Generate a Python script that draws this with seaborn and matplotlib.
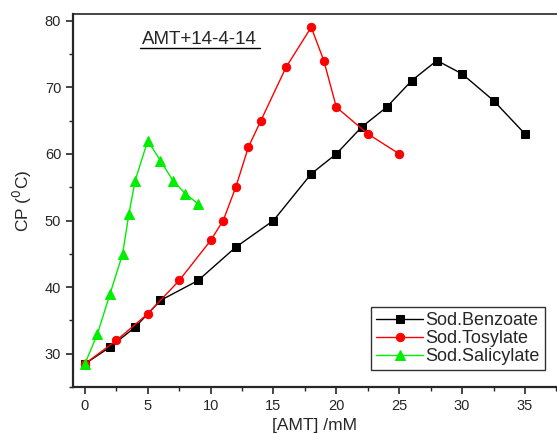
import matplotlib
matplotlib.use("Agg")
import matplotlib.pyplot as plt
import pandas as pd
import seaborn as sns
from matplotlib.ticker import MultipleLocator

benzoate_x = [0, 2, 4, 6, 9, 12, 15, 18, 20, 22, 24, 26, 28, 30, 32.5, 35]
benzoate_y = [28.5, 31, 34, 38, 41, 46, 50, 57, 60, 64, 67, 71, 74, 72, 68, 63]

tosylate_x = [0, 2.5, 5, 7.5, 10, 11, 12, 13, 14, 16, 18, 19, 20, 22.5, 25]
tosylate_y = [28.5, 32, 36, 41, 47, 50, 55, 61, 65, 73, 79, 74, 67, 63, 60]

salicylate_x = [0, 1, 2, 3, 3.5, 4, 5, 6, 7, 8, 9]
salicylate_y = [28.5, 33, 39, 45, 51, 56, 62, 59, 56, 54, 52.5]

series = [
    ("Sod.Benzoate", benzoate_x, benzoate_y, "black", "s", 5.5),
    ("Sod.Tosylate", tosylate_x, tosylate_y, "red", "o", 6),
    ("Sod.Salicylate", salicylate_x, salicylate_y, "#00ee00", "^", 7),
]

sns.set_style("ticks")
plt.rcParams["font.family"] = ["Liberation Sans", "DejaVu Sans"]

fig = plt.figure(figsize=(5.57, 4.34), dpi=100)
ax = fig.add_axes([0.131, 0.108, 0.869, 0.860])

for name, xs, ys, color, marker, ms in series:
    df = pd.DataFrame({"x": xs, "y": ys})
    sns.lineplot(data=df, x="x", y="y", ax=ax, color=color, marker=marker,
                 markersize=ms, markeredgecolor=color, linewidth=1,
                 sort=False, label=name)

ax.set_xlim(-0.95, 37.55)
ax.set_ylim(25, 81)
ax.xaxis.set_major_locator(MultipleLocator(5))
ax.xaxis.set_minor_locator(MultipleLocator(2.5))
ax.yaxis.set_major_locator(MultipleLocator(10))
ax.yaxis.set_minor_locator(MultipleLocator(5))
ax.tick_params(which="major", direction="out", length=5, width=1.2, labelsize=10.5)
ax.tick_params(which="minor", direction="out", length=3, width=1)

ax.spines["right"].set_visible(False)
ax.spines["left"].set_linewidth(1.6)
ax.spines["bottom"].set_linewidth(1.6)
ax.spines["top"].set_linewidth(1.2)

ax.set_xlabel("[AMT] /mM", fontsize=12.5, labelpad=4)
ax.set_ylabel("CP ($^0$C)", fontsize=12.5, labelpad=8)

ax.text(0.262, 0.932, "AMT+14-4-14", transform=ax.transAxes, fontsize=13.5,
        ha="center", va="center")
ax.plot([0.138, 0.386], [0.908, 0.908], transform=ax.transAxes, color="black",
        linewidth=1)

leg = ax.legend(loc="lower right", bbox_to_anchor=(0.975, 0.045), fontsize=13,
                frameon=True, fancybox=False, edgecolor="black",
                handlelength=2.6, handletextpad=0.1, borderpad=0.3,
                labelspacing=0.05, borderaxespad=0)
leg.get_frame().set_linewidth(1)

fig.savefig("out.png", dpi=100)
